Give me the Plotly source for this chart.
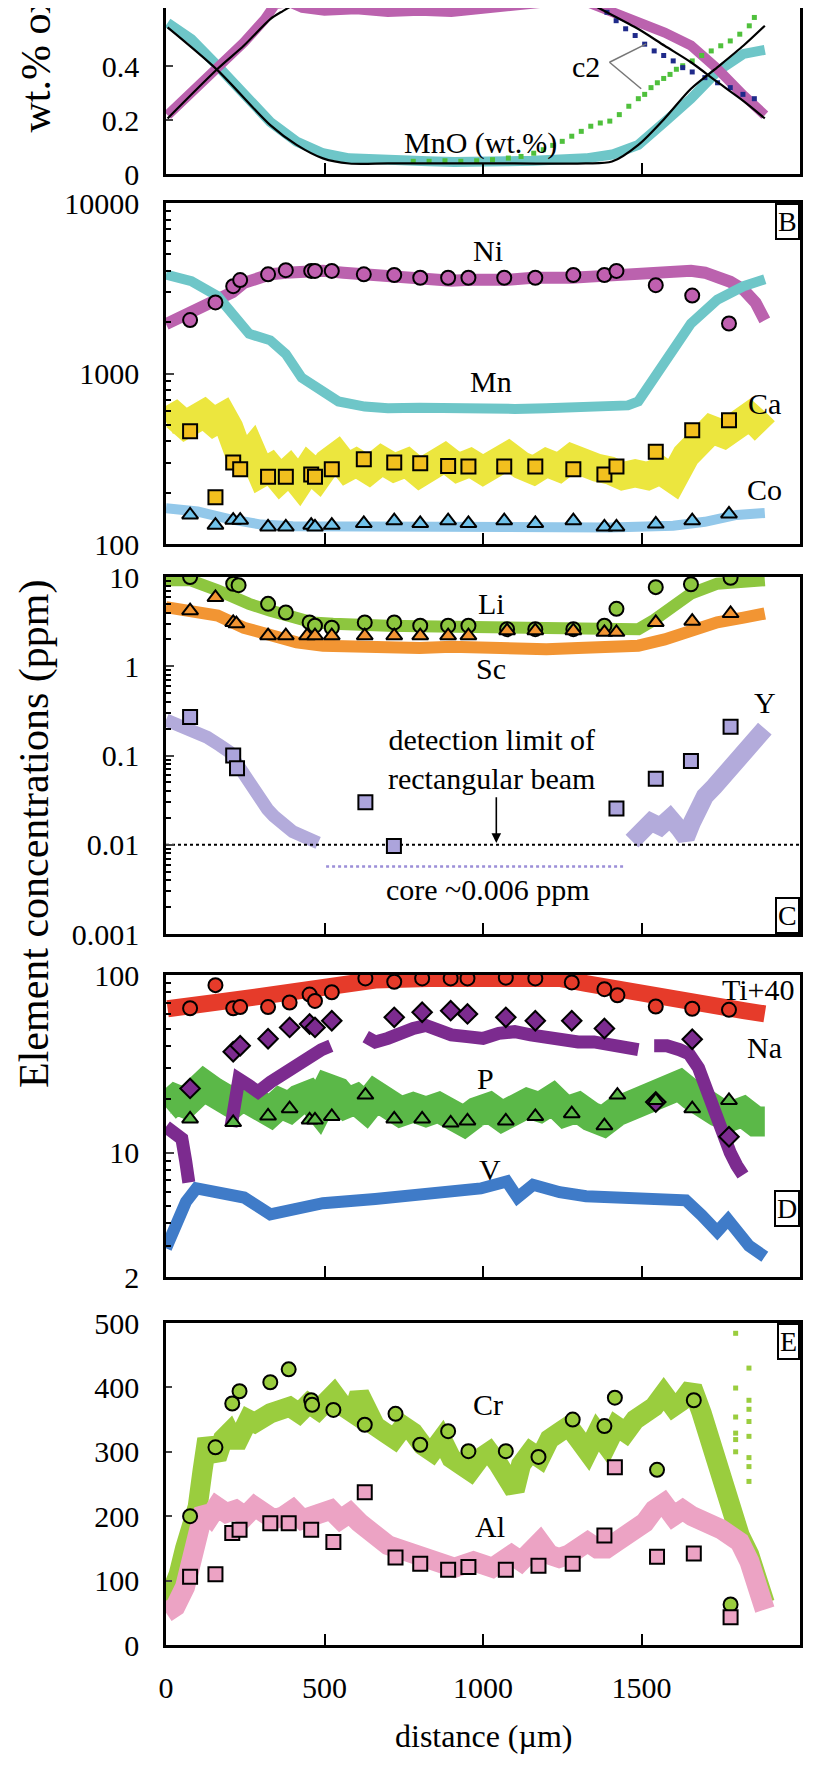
import plotly.graph_objects as go

W, H = 819, 1783
FONT = "Liberation Serif"

# ---------------- Panel A (wt.% oxide) ----------------
a_mno_x = [5, 80, 163, 246, 329, 412, 495, 578, 660, 744, 827, 910, 993, 1075, 1158, 1241, 1325, 1407, 1490, 1573, 1656, 1739, 1822, 1889]
a_mno_y = [0.56, 0.50, 0.40, 0.29, 0.193, 0.12, 0.077, 0.058, 0.052, 0.049, 0.047, 0.044, 0.049, 0.047, 0.049, 0.053, 0.058, 0.072, 0.108, 0.193, 0.279, 0.38, 0.445, 0.46]
a_mno_fit_x = [5, 163, 329, 412, 495, 578, 700, 900, 1100, 1324, 1407, 1490, 1573, 1656, 1739, 1822, 1889]
a_mno_fit_y = [0.543, 0.384, 0.181, 0.108, 0.058, 0.039, 0.039, 0.039, 0.039, 0.039, 0.046, 0.108, 0.206, 0.316, 0.395, 0.476, 0.549]
a_ni_x = [5, 80, 163, 246, 312, 345, 390, 430, 500, 600, 700, 800, 900, 1000, 1100, 1158, 1250, 1330, 1400, 1490, 1573, 1656, 1739, 1822, 1889]
a_ni_y = [0.218, 0.303, 0.39, 0.488, 0.574, 0.63, 0.636, 0.615, 0.605, 0.61, 0.60, 0.605, 0.60, 0.61, 0.62, 0.63, 0.642, 0.636, 0.605, 0.568, 0.524, 0.476, 0.39, 0.291, 0.218]
a_ni_fit_x = [5, 163, 246, 329, 362, 450, 600, 800, 1000, 1200, 1300, 1391, 1490, 1573, 1656, 1739, 1822, 1889]
a_ni_fit_y = [0.206, 0.39, 0.476, 0.574, 0.599, 0.654, 0.692, 0.704, 0.704, 0.692, 0.654, 0.599, 0.537, 0.475, 0.414, 0.341, 0.27, 0.206]
a_c2g_x = [780, 830, 880, 930, 980, 1030, 1080, 1120, 1160, 1190, 1220, 1250, 1280, 1310, 1340, 1370, 1400, 1430, 1460, 1490, 1510, 1530, 1550, 1570, 1590, 1610, 1630, 1660, 1690, 1720, 1750, 1780, 1810, 1840, 1856]
a_c2g_y = [0.047, 0.047, 0.049, 0.047, 0.049, 0.053, 0.059, 0.065, 0.077, 0.09, 0.106, 0.121, 0.14, 0.158, 0.177, 0.189, 0.196, 0.22, 0.251, 0.279, 0.295, 0.32, 0.338, 0.354, 0.369, 0.388, 0.401, 0.419, 0.439, 0.456, 0.475, 0.493, 0.518, 0.549, 0.58]
a_c2b_x = [1391, 1420, 1450, 1480, 1510, 1540, 1570, 1600, 1630, 1660, 1700, 1740, 1780, 1820, 1856]
a_c2b_y = [0.599, 0.568, 0.538, 0.513, 0.481, 0.456, 0.439, 0.419, 0.394, 0.378, 0.357, 0.338, 0.32, 0.295, 0.279]

# ---------------- Panel B ----------------
ni_band_x = [0, 60, 120, 163, 210, 246, 290, 329, 380, 430, 495, 560, 620, 660, 720, 780, 840, 900, 960, 1020, 1080, 1158, 1220, 1280, 1340, 1400, 1450, 1490, 1540, 1600, 1656, 1700, 1739, 1780, 1822, 1860, 1889]
ni_band_y = [1950, 2200, 2450, 2640, 3000, 3400, 3650, 3820, 3900, 3950, 4000, 3900, 3800, 3730, 3650, 3600, 3550, 3500, 3550, 3500, 3550, 3640, 3600, 3650, 3700, 3750, 3800, 3900, 4000, 4000, 4000, 3900, 3730, 3450, 3100, 2600, 2050]
mn_band_x = [0, 80, 163, 212, 262, 329, 378, 428, 495, 544, 627, 700, 800, 900, 1000, 1100, 1200, 1300, 1400, 1457, 1490, 1540, 1590, 1656, 1739, 1822, 1889]
mn_band_y = [3800, 3480, 2840, 2150, 1710, 1565, 1300, 945, 787, 686, 640, 625, 630, 620, 625, 620, 625, 630, 640, 650, 686, 945, 1360, 1965, 2710, 3250, 3570]
ca_band_x = [0, 30, 60, 90, 120, 150, 180, 200, 215, 240, 270, 300, 330, 360, 390, 420, 450, 480, 510, 540, 570, 600, 640, 680, 720, 760, 800, 840, 880, 920, 960, 1000, 1040, 1080, 1120, 1160, 1200, 1240, 1280, 1320, 1360, 1400, 1440, 1480, 1520, 1560, 1600, 1640, 1680, 1720, 1760, 1800, 1840, 1870, 1889]
ca_band_y = [520, 560, 500, 540, 580, 520, 560, 480, 330, 300, 350, 260, 280, 240, 270, 230, 280, 250, 300, 330, 280, 300, 270, 310, 280, 300, 260, 290, 320, 280, 300, 270, 300, 330, 290, 270, 300, 280, 320, 290, 280, 270, 250, 260, 250, 270, 240, 330, 420, 470, 440, 520, 560, 500, 460]
co_band_x = [0, 100, 200, 300, 400, 600, 800, 1000, 1200, 1400, 1600, 1700, 1800, 1889]
co_band_y = [162, 155, 140, 130, 127, 126, 127, 128, 126, 125, 128, 135, 148, 152]
b_pts_x = [76, 156, 212, 234, 322, 378, 458, 470, 523, 624, 720, 802, 890, 954, 1067, 1165, 1285, 1383, 1421, 1545, 1660, 1776]
ni_pts_y = [2057, 2612, 3252, 3532, 3818, 4036, 3997, 3997, 3997, 3818, 3783, 3645, 3645, 3645, 3645, 3645, 3783, 3783, 3997, 3297, 2864, 1965]
ca_pts_y = [458, 188, 301, 274, 248, 248, 256, 248, 274, 314, 301, 298, 287, 285, 285, 285, 274, 256, 285, 348, 464, 532]
co_pts_y = [148, 129, 138, 138, 126, 126, 129, 126, 129, 132, 137, 132, 137, 132, 137, 132, 137, 126, 126, 131, 137, 150]

# ---------------- Panel C ----------------
li_band_x = [0, 76, 163, 212, 262, 329, 395, 461, 527, 600, 700, 800, 900, 1000, 1100, 1200, 1300, 1400, 1457, 1490, 1540, 1590, 1656, 1739, 1822, 1889]
li_band_y = [9.2, 9.2, 7.1, 5.9, 5.0, 4.2, 3.5, 3.1, 3.0, 2.85, 2.85, 2.8, 2.75, 2.7, 2.65, 2.6, 2.55, 2.5, 2.5, 2.6, 3.3, 4.6, 6.5, 8.4, 9.2, 9.2]
sc_band_x = [0, 163, 246, 329, 412, 495, 600, 700, 800, 900, 1000, 1100, 1200, 1300, 1400, 1490, 1573, 1656, 1739, 1822, 1889]
sc_band_y = [4.6, 3.7, 2.7, 2.2, 1.85, 1.7, 1.65, 1.6, 1.6, 1.65, 1.6, 1.6, 1.55, 1.6, 1.65, 1.7, 2.0, 2.5, 3.1, 3.5, 3.9]
yl_band_x = [0, 40, 80, 130, 170, 200, 220, 240, 260, 280, 300, 320, 340, 360, 380, 400, 420, 440, 460, 480]
yl_band_y = [0.25, 0.22, 0.19, 0.16, 0.13, 0.11, 0.085, 0.065, 0.048, 0.038, 0.030, 0.025, 0.021, 0.019, 0.016, 0.014, 0.013, 0.012, 0.011, 0.0105]
yr_band_x = [1470, 1500, 1530, 1560, 1590, 1620, 1640, 1660, 1680, 1700, 1730, 1760, 1790, 1820, 1850, 1889]
yr_band_y = [0.011, 0.014, 0.018, 0.016, 0.020, 0.015, 0.012, 0.018, 0.028, 0.035, 0.045, 0.06, 0.085, 0.11, 0.14, 0.2]
li_pts_x = [76, 212, 229, 322, 378, 453, 470, 523, 627, 720, 802, 890, 954, 1076, 1165, 1285, 1383, 1421, 1545, 1656, 1781]
li_pts_y = [10, 8.4, 8.1, 5.0, 4.0, 3.1, 2.85, 2.7, 3.1, 3.1, 2.85, 2.85, 2.85, 2.6, 2.6, 2.6, 2.85, 4.4, 7.7, 8.3, 9.8]
sc_pts_x = [76, 156, 212, 222, 322, 378, 445, 470, 523, 627, 720, 802, 890, 954, 1076, 1165, 1285, 1383, 1421, 1545, 1660, 1781]
sc_pts_y = [4.2, 5.9, 3.1, 3.0, 2.2, 2.2, 2.2, 2.2, 2.2, 2.2, 2.2, 2.2, 2.2, 2.2, 2.5, 2.5, 2.5, 2.4, 2.4, 3.1, 3.2, 3.9]
y_pts_x = [76, 212, 224, 629, 719, 1421, 1545, 1656, 1781]
y_pts_y = [0.27, 0.1, 0.072, 0.030, 0.0097, 0.0255, 0.055, 0.087, 0.21]
det_limit_x = [0, 2000]
det_limit_y = [0.01, 0.01]
core_x = [505, 1450]
core_y = [0.0057, 0.0057]

# ---------------- Panel D ----------------
ti_band_x = [5, 80, 163, 246, 329, 412, 495, 578, 660, 827, 993, 1158, 1242, 1325, 1407, 1490, 1573, 1656, 1739, 1822, 1889]
ti_band_y = [64.6, 65.9, 70.4, 73.6, 76.9, 80.3, 83.9, 89.6, 93.6, 95.7, 97.8, 97.8, 95.7, 89.6, 83.9, 80.3, 76.9, 71.9, 67.4, 63.1, 60.4]
na_band_x = [0, 30, 50, 62, 72, None, 205, 215, 230, 260, 290, 330, 370, 400, 430, 460, 490, 520, None,
             630, 660, 700, 740, 780, 820, 860, 900, 950, 1000, 1050, 1100, 1150, 1200, 1250, 1300, 1350, 1400, 1450, 1490, None,
             1540, 1580, 1620, 1650, 1680, 1700, 1720, 1740, 1760, 1780, 1800, 1820]
na_band_y = [14, 13, 12, 9, 6.8, None, 14, 20, 26, 24, 22, 25, 28, 30, 33, 36, 38, 40, None,
             45, 42, 44, 48, 50, 52, 48, 46, 45, 44, 47, 48, 46, 44, 43, 42, 42, 41, 40, 38, None,
             40, 40, 38, 36, 30, 24, 18, 14, 12, 10, 8.5, 7.5]
p_band_x = [0, 30, 60, 90, 120, 150, 180, 210, 240, 270, 300, 330, 360, 390, 420, 450, 480, 510, 540, 570, 600, 630, 660, 700, 740, 780, 820, 860, 900, 940, 980, 1020, 1060, 1100, 1140, 1180, 1220, 1260, 1300, 1340, 1380, 1420, 1460, 1500, 1540, 1580, 1620, 1660, 1700, 1740, 1780, 1820, 1860, 1889]
p_band_y = [18, 20, 19, 22, 24, 22, 20, 19, 21, 20, 18, 17, 19, 18, 20, 21, 18, 23, 22, 19, 20, 18, 21, 19, 17, 18, 17, 18, 16, 15, 17, 18, 16, 17, 19, 18, 20, 17, 18, 16, 15, 17, 18, 19, 21, 22, 24, 21, 18, 17, 16, 17, 15, 15]
v_band_x = [0, 30, 63, 96, 163, 246, 329, 412, 495, 660, 827, 993, 1075, 1109, 1158, 1242, 1325, 1490, 1640, 1690, 1739, 1773, 1806, 1839, 1889]
v_band_y = [2.9, 4.0, 5.3, 6.3, 6.0, 5.6, 4.5, 4.8, 5.2, 5.5, 6.0, 6.3, 6.9, 5.6, 6.6, 6.0, 5.7, 5.5, 5.4, 4.45, 3.6, 4.2, 3.5, 3.0, 2.6]
ti_pts_x = [76, 156, 212, 234, 322, 390, 453, 470, 523, 629, 720, 808, 898, 951, 1072, 1165, 1280, 1383, 1424, 1545, 1660, 1776]
ti_pts_y = [65, 87.7, 65, 66, 66, 70, 77.6, 71.5, 80, 95.7, 91.6, 95.7, 95.7, 95.7, 96.6, 95.7, 90.8, 83.2, 76.9, 66.5, 64.6, 63.7]
na_pts_x = [76, 212, 234, 322, 390, 453, 470, 523, 720, 808, 898, 951, 1072, 1165, 1280, 1383, 1545, 1660, 1776]
na_pts_y = [23, 37, 40, 43.8, 50.7, 53, 50.7, 55.3, 57.8, 61.7, 63, 60.4, 57.8, 55.3, 55.3, 50, 19.3, 43.5, 12.3]
p_pts_x = [76, 212, 322, 390, 453, 470, 523, 629, 720, 808, 898, 951, 1072, 1165, 1280, 1383, 1424, 1545, 1660, 1776]
p_pts_y = [15.5, 14.8, 16.1, 17.7, 15.3, 15.3, 16, 21.1, 15.5, 15.5, 14.7, 15.1, 15.1, 16, 16.6, 14.2, 21.1, 19.7, 17.7, 19.7]

# ---------------- Panel E ----------------
cr_band_x = [0, 20, 40, 60, 80, 100, 115, 130, 145, 160, 180, 200, 220, 240, 260, 280, 300, 330, 360, 390, 420, 450, 480, 500, 530, 560, 590, 610, 630, 660, 690, 720, 750, 780, 810, 840, 870, 900, 930, 960, 990, 1020, 1050, 1080, 1100, 1120, 1150, 1180, 1210, 1240, 1270, 1300, 1330, 1360, 1390, 1420, 1450, 1480, 1510, 1540, 1570, 1600, 1630, 1660, 1690, 1720, 1750, 1780, 1810, 1840, 1870, 1889]
cr_band_y = [60, 80, 110, 150, 180, 215, 270, 320, 300, 290, 320, 330, 310, 340, 350, 345, 355, 360, 365, 370, 360, 375, 365, 380, 390, 370, 360, 390, 370, 340, 330, 320, 340, 330, 310, 300, 320, 290, 280, 270, 290, 300, 280, 250, 240, 280, 300, 290, 320, 330, 340, 320, 300, 330, 310, 340, 330, 350, 360, 370, 390, 370, 380, 400, 360, 310, 260, 210, 170, 140, 100, 65]
cr_scatter_x = [1797, 1797, 1797, 1797, 1797, 1797, 1839, 1839, 1839, 1839, 1839, 1839, 1839, 1839]
cr_scatter_y = [484, 399, 354, 329, 319, 300, 430, 380, 366, 347, 324, 291, 277, 254]
al_band_x = [0, 30, 60, 80, 100, 120, 140, 160, 190, 220, 250, 280, 310, 340, 370, 400, 430, 460, 490, 520, 550, 580, 610, 640, 670, 700, 730, 760, 790, 820, 850, 880, 910, 940, 970, 1000, 1030, 1060, 1090, 1120, 1150, 1180, 1210, 1240, 1270, 1300, 1330, 1360, 1390, 1420, 1450, 1480, 1510, 1540, 1570, 1600, 1630, 1660, 1690, 1720, 1750, 1780, 1810, 1840, 1860, 1889]
al_band_y = [50, 60, 90, 130, 180, 210, 200, 215, 205, 210, 200, 215, 205, 195, 200, 210, 195, 200, 205, 210, 195, 205, 190, 175, 165, 155, 150, 145, 140, 135, 130, 125, 120, 125, 130, 125, 120, 130, 140, 130, 150, 160, 140, 135, 140, 150, 160, 150, 150, 160, 170, 180, 190, 210, 220, 200, 210, 200, 195, 190, 180, 170, 160, 130, 90, 55]
cr_pts_x = [76, 156, 209, 232, 329, 387, 458, 461, 528, 627, 724, 802, 890, 954, 1072, 1175, 1283, 1383, 1416, 1549, 1665, 1781]
cr_pts_y = [200, 307, 375, 394, 408, 428, 380, 373, 365, 342, 359, 311, 332, 301, 301, 292, 350, 340, 384, 272, 380, 63]
al_pts_x = [76, 156, 209, 232, 329, 387, 458, 528, 627, 724, 802, 890, 954, 1072, 1175, 1283, 1383, 1416, 1549, 1665, 1781]
al_pts_y = [106, 110, 174, 179, 189, 189, 179, 160, 237, 136, 126, 117, 121, 117, 123, 126, 170, 276, 137, 142, 43]

x_ticks = [0, 500, 1000, 1500, 2000]

# ---------------- layout geometry (pixels) ----------------
XL, XR = 158, 792
panels = {"": (0, 166), "2": (195, 536), "3": (569, 926), "4": (967, 1269), "5": (1315, 1637)}


def dom(top, bot):
    return [1 - bot / H, 1 - top / H]


fig = go.Figure()


def band(x, y, color, width, ax):
    fig.add_trace(go.Scatter(x=x, y=y, mode="lines", line=dict(color=color, width=width),
                             xaxis="x" + ax, yaxis="y" + ax, showlegend=False, hoverinfo="skip",
                             connectgaps=False))


def pts(x, y, symbol, fill, ax, size=14, lw=2, lc="black"):
    fig.add_trace(go.Scatter(x=x, y=y, mode="markers",
                             marker=dict(symbol=symbol, color=fill, size=size, line=dict(color=lc, width=lw)),
                             xaxis="x" + ax, yaxis="y" + ax, showlegend=False, hoverinfo="skip"))


# Panel A
band(a_mno_x, a_mno_y, "#6ec6c8", 10, "")
band(a_ni_x, a_ni_y, "#bb62ae", 10, "")
pts(a_c2g_x, a_c2g_y, "square", "#4fc03c", "", size=5, lw=0)
pts(a_c2b_x, a_c2b_y, "square", "#1f2a8a", "", size=5, lw=0)
for fx, fy in ((a_mno_fit_x, a_mno_fit_y), (a_ni_fit_x, a_ni_fit_y)):
    fig.add_trace(go.Scatter(x=fx, y=fy, mode="lines", line=dict(color="black", width=2.2, shape="spline", smoothing=0.8),
                             xaxis="x", yaxis="y", showlegend=False, hoverinfo="skip"))

# Panel B
band(ni_band_x, ni_band_y, "#bb62ae", 12, "2")
band(mn_band_x, mn_band_y, "#6ec6c8", 10, "2")
band(ca_band_x, ca_band_y, "#ece63e", 28, "2")
band(co_band_x, co_band_y, "#93c8ea", 10, "2")
pts(b_pts_x, ni_pts_y, "circle", "#c060b0", "2")
pts(b_pts_x, ca_pts_y, "square", "#f2c01e", "2")
pts(b_pts_x, co_pts_y, "triangle-up", "#70c2ea", "2")

# Panel C
band(li_band_x, li_band_y, "#8dc63f", 12, "3")
band(sc_band_x, sc_band_y, "#f29533", 12, "3")
band(yl_band_x, yl_band_y, "#b3abdb", 13, "3")
band(yr_band_x, yr_band_y, "#b3abdb", 18, "3")
fig.add_trace(go.Scatter(x=det_limit_x, y=det_limit_y, mode="lines", line=dict(color="black", width=2, dash="dot"),
                         xaxis="x3", yaxis="y3", showlegend=False, hoverinfo="skip"))
fig.add_trace(go.Scatter(x=core_x, y=core_y, mode="lines", line=dict(color="#9c8fd8", width=2.5, dash="dot"),
                         xaxis="x3", yaxis="y3", showlegend=False, hoverinfo="skip"))
pts(li_pts_x, li_pts_y, "circle", "#8dc63f", "3")
pts(sc_pts_x, sc_pts_y, "triangle-up", "#f29533", "3")
pts(y_pts_x, y_pts_y, "square", "#aca4dc", "3")

# Panel D
band(ti_band_x, ti_band_y, "#e63b2a", 17, "4")
band(p_band_x, p_band_y, "#5bb848", 30, "4")
band(na_band_x, na_band_y, "#7c2b8f", 13, "4")
band(v_band_x, v_band_y, "#3f7bc8", 12, "4")
pts(ti_pts_x, ti_pts_y, "circle", "#e63b2a", "4")
pts(na_pts_x, na_pts_y, "diamond", "#7c2b8f", "4", size=15)
pts(p_pts_x, p_pts_y, "triangle-up", "#5bb848", "4")

# Panel E
band(cr_band_x, cr_band_y, "#9acd3e", 20, "5")
band(al_band_x, al_band_y, "#eca3c4", 20, "5")
pts(cr_scatter_x, cr_scatter_y, "square", "#9acd3e", "5", size=5, lw=0)
pts(cr_pts_x, cr_pts_y, "circle", "#9acd3e", "5")
pts(al_pts_x, al_pts_y, "square", "#eca3c4", "5")

tickfont = dict(family=FONT, size=30, color="black")

layout = dict(width=W, height=H, margin=dict(l=0, r=0, t=0, b=0),
              paper_bgcolor="white", plot_bgcolor="white", showlegend=False,
              font=dict(family=FONT, size=30, color="black"))

axis_common = dict(showline=True, linewidth=2.6, linecolor="black", showgrid=False, zeroline=False,
                   automargin=False, tickfont=tickfont)

for ax, (top, bot) in panels.items():
    xa = dict(axis_common, domain=[XL / W, XR / W], anchor="y" + ax, range=[0, 2000],
              tickvals=x_ticks, ticks="inside", ticklen=11, tickwidth=2, tickcolor="black",
              mirror=(ax != ""), showticklabels=(ax == "5"), ticklabelstandoff=14)
    layout["xaxis" + ax] = xa

layout["yaxis"] = dict(axis_common, domain=dom(*panels[""]), anchor="x", range=[0, 0.615],
                       tickvals=[0, 0.2, 0.4], ticktext=["0", "0.2", "0.4"], ticks="inside", ticklen=7,
                       tickwidth=2, mirror=True, ticklabelstandoff=18)
layout["yaxis2"] = dict(axis_common, domain=dom(*panels["2"]), anchor="x2", type="log", range=[2, 4],
                        tickvals=[100, 1000, 10000], ticktext=["100", "1000", "10000"], ticks="inside",
                        ticklen=8, tickwidth=2, mirror=True, ticklabelstandoff=18,
                        minor=dict(tickvals=[200, 300, 400, 500, 600, 700, 800, 900, 2000, 3000, 4000, 5000, 6000, 7000, 8000, 9000],
                                   ticks="inside", ticklen=5, tickwidth=1.5, tickcolor="black"))
layout["yaxis3"] = dict(axis_common, domain=dom(*panels["3"]), anchor="x3", type="log", range=[-3, 1],
                        tickvals=[0.001, 0.01, 0.1, 1, 10], ticktext=["0.001", "0.01", "0.1", "1", "10"],
                        ticks="inside", ticklen=8, tickwidth=2, mirror=True, ticklabelstandoff=18,
                        minor=dict(tickvals=[0.002, 0.003, 0.004, 0.005, 0.006, 0.007, 0.008, 0.009,
                                             0.02, 0.03, 0.04, 0.05, 0.06, 0.07, 0.08, 0.09,
                                             0.2, 0.3, 0.4, 0.5, 0.6, 0.7, 0.8, 0.9, 2, 3, 4, 5, 6, 7, 8, 9],
                                   ticks="inside", ticklen=5, tickwidth=1.5, tickcolor="black"))
layout["yaxis4"] = dict(axis_common, domain=dom(*panels["4"]), anchor="x4", type="log", range=[0.30103, 2],
                        tickvals=[2, 10, 100], ticktext=["2", "10", "100"], ticks="inside", ticklen=8,
                        tickwidth=2, mirror=True, ticklabelstandoff=18,
                        minor=dict(tickvals=[3, 4, 5, 6, 7, 8, 9, 20, 30, 40, 50, 60, 70, 80, 90],
                                   ticks="inside", ticklen=5, tickwidth=1.5, tickcolor="black"))
layout["yaxis5"] = dict(axis_common, domain=dom(*panels["5"]), anchor="x5", range=[0, 500],
                        tickvals=[0, 100, 200, 300, 400, 500], ticks="inside", ticklen=6, tickwidth=2,
                        mirror=True, ticklabelstandoff=18)

fig.update_layout(**layout)

ann = []


def label(text, x, y, ax, xanchor="center", size=30):
    ann.append(dict(text=text, x=x, y=y, xref="x" + ax, yref="y" + ax, showarrow=False,
                    xanchor=xanchor, yanchor="middle", font=dict(family=FONT, size=size, color="black")))


# Panel A labels
label("MnO (wt.%)", 993, 0.115, "")
label("c2", 1325, 0.40, "")
# Panel B labels
label("Ni", 1017, 3.72, "2")
label("Mn", 1025, 2.955, "2")
label("Ca", 1889, 2.826, "2")
label("Co", 1889, 2.32, "2")
# Panel C labels
label("Li", 1026, 0.70, "3")
label("Sc", 1026, -0.03, "3")
label("Y", 1889, -0.41, "3")
label("detection limit of<br>rectangular beam", 1026, -1.04, "3")
label("core ~0.006 ppm", 1017, -2.5, "3")
ann.append(dict(x=1042, y=-1.98, ax=1042, ay=-1.45, xref="x3", yref="y3", axref="x3", ayref="y3",
                showarrow=True, arrowhead=2, arrowsize=1.2, arrowwidth=1.6, arrowcolor="black", text=""))
# Panel D labels
label("Ti+40", 1990, 1.92, "4", xanchor="right")
label("Na", 1889, 1.59, "4")
label("P", 1009, 1.42, "4")
label("V", 1022, 0.905, "4")
# Panel E labels
label("Cr", 1017, 373, "5")
label("Al", 1022, 184, "5")


def boxlab(text, ax, y, yanchor, yref=None):
    ann.append(dict(text=text, xref="x%s domain" % ax, x=1, xanchor="right",
                    yref=yref or "y%s domain" % ax, y=y, yanchor=yanchor, showarrow=False,
                    bordercolor="black", borderwidth=2, borderpad=1, bgcolor="white",
                    font=dict(family=FONT, size=28, color="black")))


boxlab("B", "2", 1, "top")
boxlab("C", "3", 0, "bottom")
boxlab("D", "4", 0.686, "middle", yref="y4")
boxlab("E", "5", 1, "top")

# axis titles
ann.append(dict(text="Element concentrations (ppm)", xref="paper", yref="paper", x=26 / W, y=1 - 826 / H,
                textangle=-90, showarrow=False, xanchor="center", yanchor="middle",
                font=dict(family=FONT, size=42, color="black")))
ann.append(dict(text="wt.% oxide", xref="paper", yref="paper", x=28 / W, y=1 - 127 / H,
                textangle=-90, showarrow=False, xanchor="center", yanchor="bottom",
                font=dict(family=FONT, size=42, color="black")))
ann.append(dict(text="distance (µm)", xref="paper", yref="paper", x=(XL + XR) / 2 / W, y=1 - 1728 / H,
                showarrow=False, xanchor="center", yanchor="middle",
                font=dict(family=FONT, size=32, color="black")))

fig.update_layout(annotations=ann)

# c2 leader lines
fig.update_layout(shapes=[
    dict(type="line", xref="x", yref="y", x0=1399, y0=0.414, x1=1515, y1=0.482, line=dict(color="#777777", width=1.5)),
    dict(type="line", xref="x", yref="y", x0=1399, y0=0.414, x1=1499, y1=0.316, line=dict(color="#777777", width=1.5)),
])

fig.write_html("out.html")
